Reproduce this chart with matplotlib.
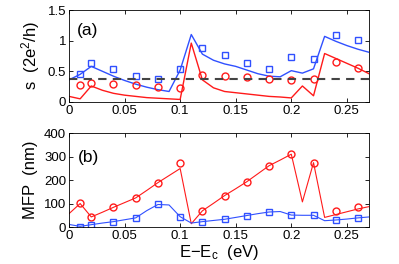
import numpy as np
import matplotlib
matplotlib.use('Agg')
import matplotlib.pyplot as plt

plt.rcParams['font.family'] = ['Liberation Sans', 'DejaVu Sans']
plt.rcParams['mathtext.fontset'] = 'custom'
plt.rcParams['mathtext.rm'] = 'Liberation Sans'
plt.rcParams['mathtext.it'] = 'Liberation Sans'

# energies (eV)
e_line = [0.00, 0.01, 0.02, 0.03, 0.04, 0.05, 0.06, 0.07, 0.08, 0.09,
          0.10, 0.11, 0.12, 0.13, 0.14, 0.15, 0.16, 0.17, 0.18, 0.19,
          0.20, 0.21, 0.22, 0.23, 0.24, 0.25, 0.26, 0.27]
e_pts = [0.01, 0.02, 0.04, 0.06, 0.08, 0.10, 0.12, 0.14, 0.16, 0.18,
         0.20, 0.22, 0.24, 0.26]

# (a) s in units of 2e^2/h
s_blue_line = [0.36, 0.45, 0.58, 0.50, 0.42, 0.35, 0.29, 0.24, 0.20, 0.17,
               0.52, 1.10, 0.78, 0.68, 0.62, 0.58, 0.52, 0.46, 0.42, 0.41,
               0.51, 0.47, 0.54, 1.07, 0.99, 0.92, 0.86, 0.81]
s_red_line = [0.09, 0.05, 0.26, 0.19, 0.14, 0.11, 0.09, 0.07, 0.06, 0.05,
              0.04, 0.96, 0.36, 0.23, 0.17, 0.15, 0.13, 0.11, 0.09, 0.08,
              0.065, 0.26, 0.10, 0.79, 0.71, 0.63, 0.55, 0.46]
s_blue_pts = [0.46, 0.64, 0.53, 0.43, 0.38, 0.54, 0.88, 0.76, 0.63, 0.54,
              0.74, 0.70, 1.10, 1.01]
s_red_pts = [0.27, 0.31, 0.29, 0.28, 0.24, 0.22, 0.44, 0.43, 0.41, 0.38,
             0.35, 0.37, 0.65, 0.56]
s_ref = 0.37

# (b) mean free path (nm)
mfp_red_line = [57, 100, 43, 63, 84, 104, 124, 156, 189, 219,
                249, 14, 69, 101, 134, 163, 193, 227, 261, 285,
                310, 107, 274, 41, 53, 65, 77, 87]
mfp_blue_line = [11, 3, 10, 17, 23, 31, 39, 70, 96, 94,
                 44, 17, 23, 28, 33, 41, 49, 57, 64, 66,
                 51, 50, 50, 27, 30, 34, 39, 43]
mfp_red_pts = [103, 43, 84, 124, 189, 271, 69, 134, 193, 261, 310, 274, 70, 87]
mfp_blue_pts = [0, 10, 23, 39, 96, 44, 23, 33, 49, 64, 51, 50, 31, 39]

blue = '#3050ff'
red = '#ff1a1a'

fig = plt.figure(figsize=(3.99, 2.64), dpi=100)
ax1 = fig.add_axes([0.173, 0.614, 0.752, 0.348])
ax2 = fig.add_axes([0.173, 0.140, 0.752, 0.356])

ax1.plot(e_line, s_blue_line, color=blue, lw=1.0)
ax1.plot(e_line, s_red_line, color=red, lw=1.0)
ax1.plot(e_pts, s_blue_pts, 's', mfc='none', mec=blue, ms=4, mew=1.0)
ax1.plot(e_pts, s_red_pts, 'o', mfc='none', mec=red, ms=5, mew=1.0)
ax1.axhline(s_ref, color='#444444', ls=(0, (4, 3)), lw=1.5)
ax1.set_ylim(0, 1.5)
ax1.set_yticks([0, 0.5, 1, 1.5])
ax1.set_yticklabels(['0', '0.5', '1', '1.5'])
ax1.set_ylabel('s  (2e$^2$/h)', fontsize=12)
ax1.text(0.007, 1.09, '(a)', fontsize=12.5, va='baseline')

ax2.plot(e_line, mfp_red_line, color=red, lw=0.8)
ax2.plot(e_line, mfp_blue_line, color=blue, lw=0.8)
ax2.plot(e_pts, mfp_red_pts, 'o', mfc='none', mec=red, ms=5, mew=1.0)
ax2.plot(e_pts, mfp_blue_pts, 's', mfc='none', mec=blue, ms=4, mew=1.0)
ax2.set_ylim(0, 400)
ax2.set_yticks([0, 100, 200, 300, 400])
ax2.set_ylabel('MFP  (nm)', fontsize=12)
ax2.set_xlabel('E$-$E$_c$  (eV)', fontsize=12, labelpad=1)
ax2.text(0.0078, 278, '(b)', fontsize=12.5, va='baseline')

for ax in (ax1, ax2):
    ax.set_xlim(0, 0.27)
    ax.set_xticks([0, 0.05, 0.1, 0.15, 0.2, 0.25])
    ax.set_xticklabels(['0', '0.05', '0.1', '0.15', '0.2', '0.25'])
    ax.tick_params(direction='in', top=True, right=True, labelsize=9.5,
                   length=3, width=0.6, pad=2)
    for sp in ax.spines.values():
        sp.set_linewidth(0.6)

fig.savefig('out.png', dpi=100)
